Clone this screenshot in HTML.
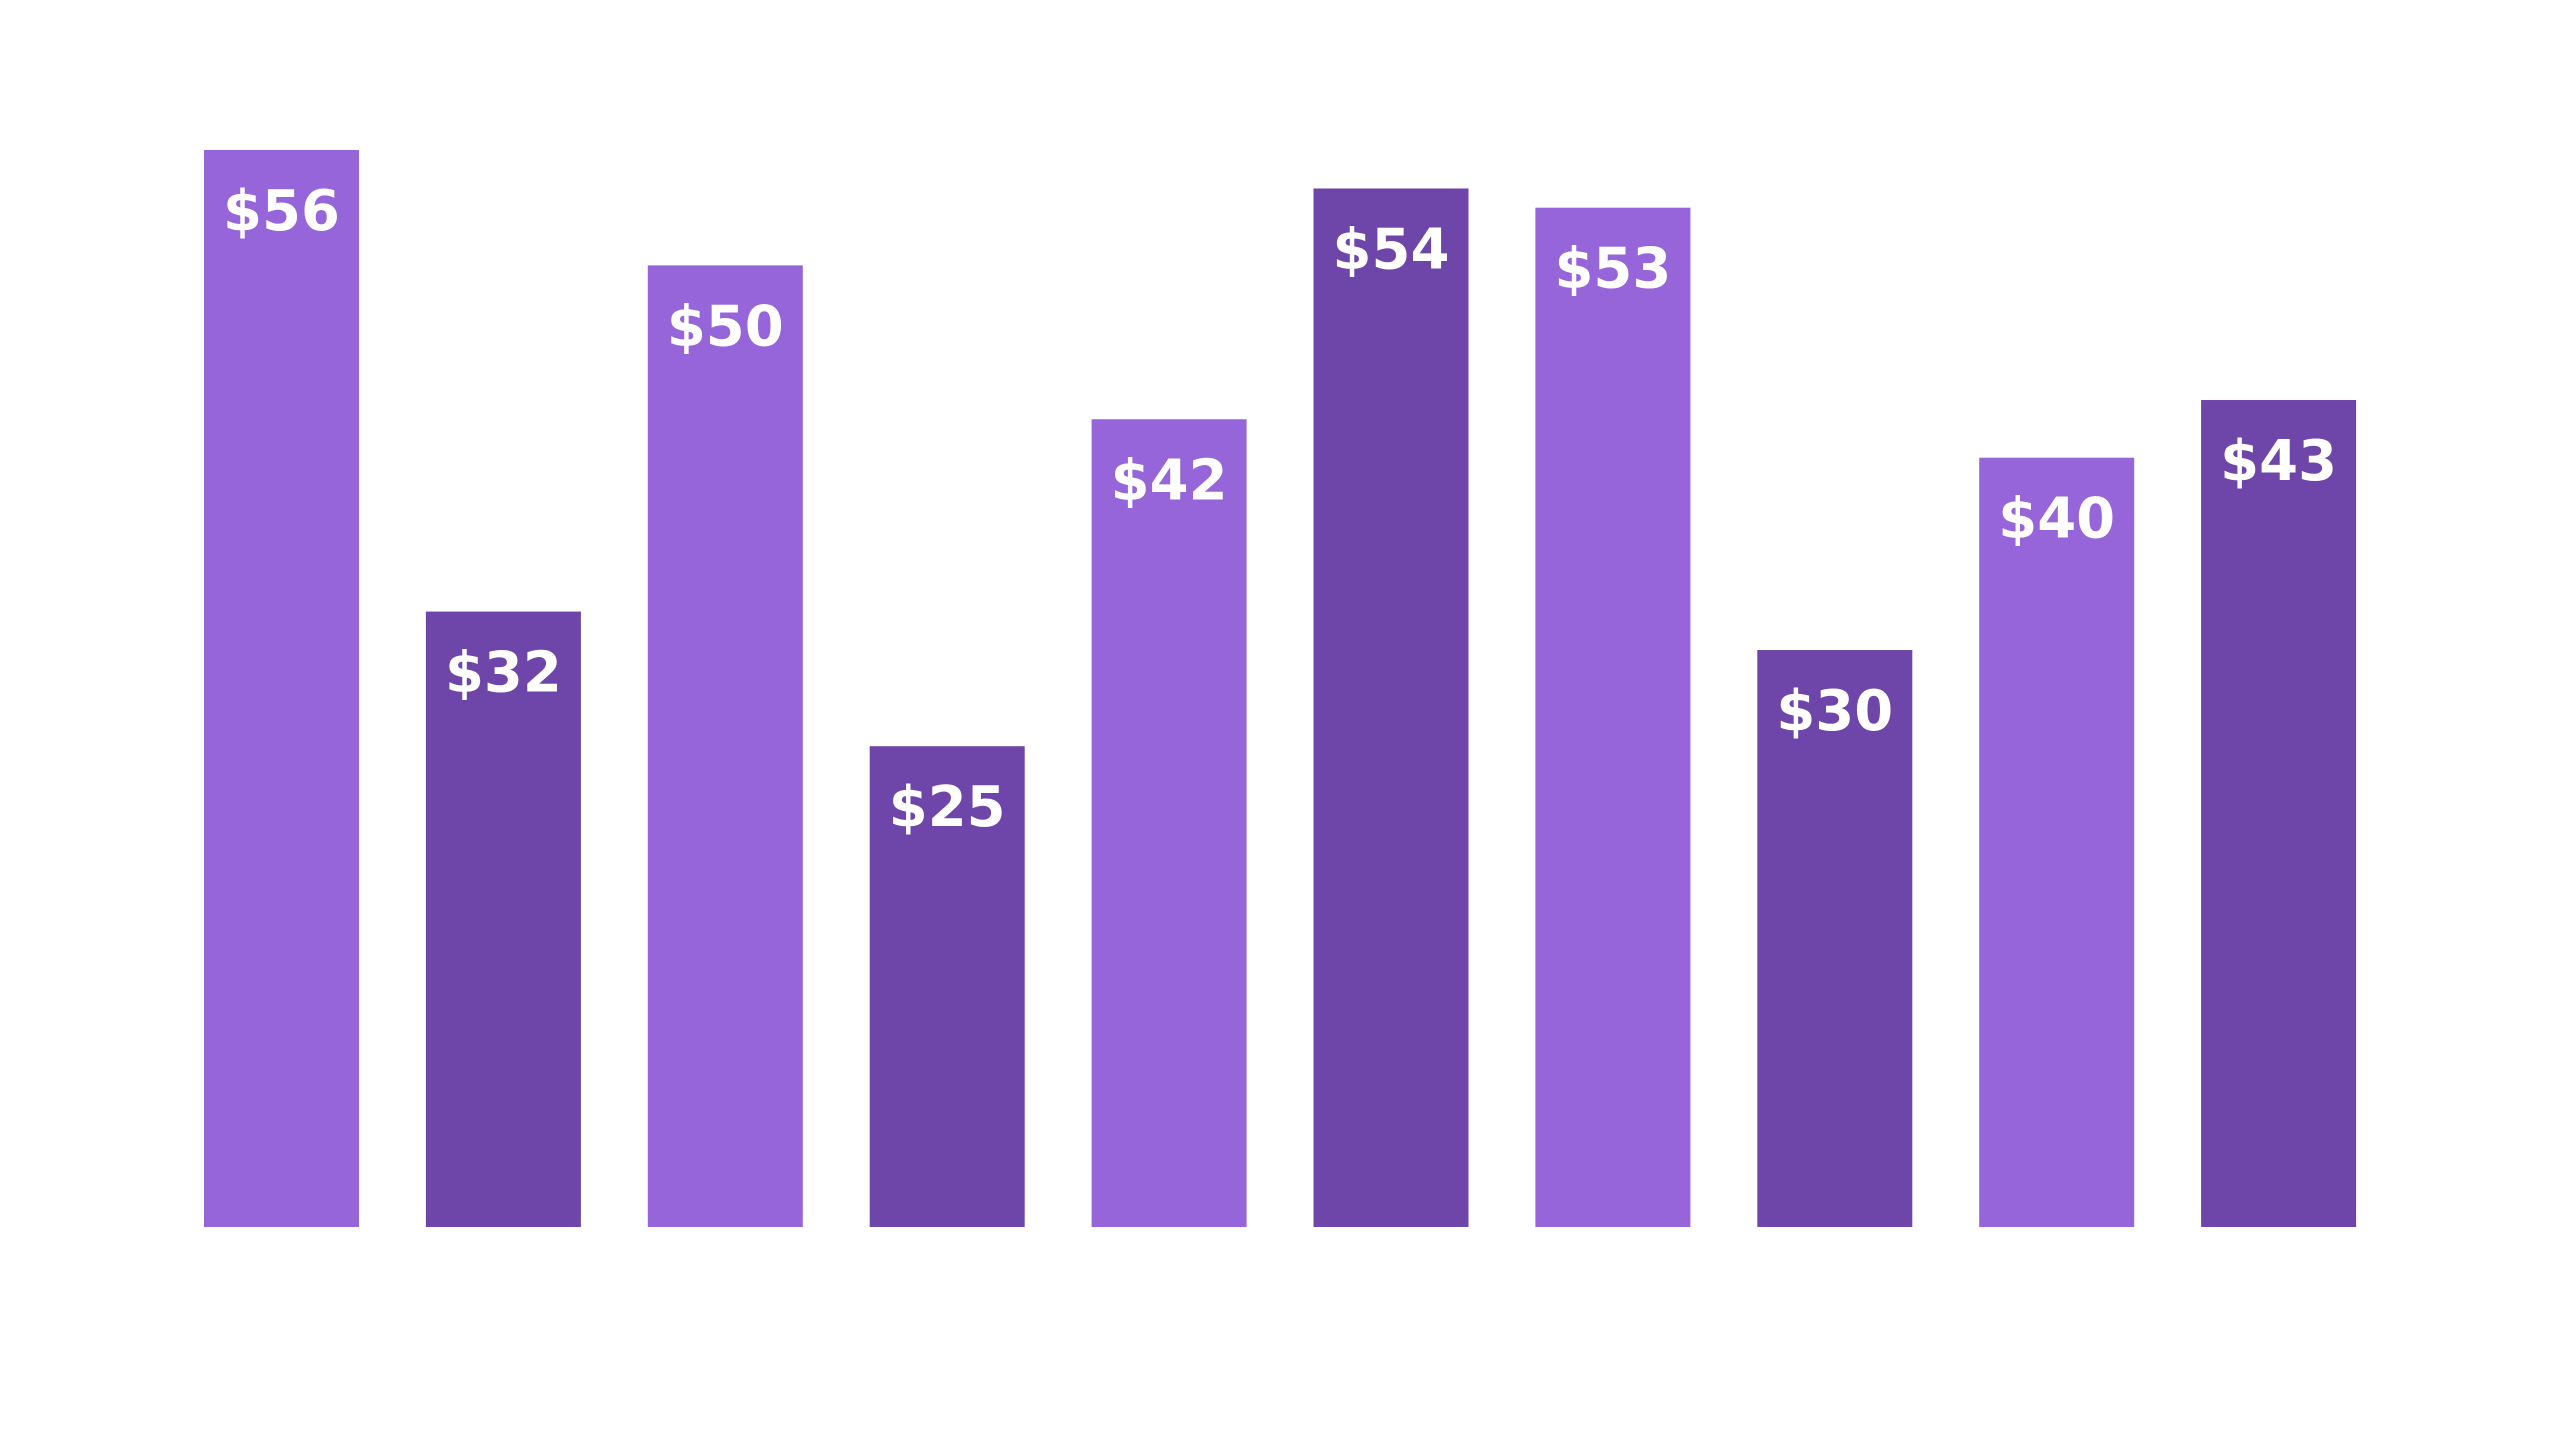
<!DOCTYPE html>
<html><head><meta charset="utf-8"><style>
html,body{margin:0;padding:0;background:#fff;}
svg{display:block;}
</style></head><body>
<svg id="chart" width="2560" height="1440" viewBox="0 0 2560 1440" xmlns="http://www.w3.org/2000/svg"></svg>
<script>
const categories = ["A","B","C","D","E","F","G","H","I","J"];
const values = [56,32,50,25,42,54,53,30,40,43];
const labels = ["$56","$32","$50","$25","$42","$54","$53","$30","$40","$43"];
const shades = ["light","dark","light","dark","light","dark","light","dark","light","dark"];

const svg = document.getElementById('chart');
const NS = 'http://www.w3.org/2000/svg';
const x0 = 204, pitch = 221.9, bw = 155, baseline = 1227, pxPerUnit = 1077/56;
function xScale(i){ return x0 + i*pitch; }
function yScale(v){ return baseline - v*pxPerUnit; }
const colors = {light:'#9565d9', dark:'#6e45a8'};
categories.forEach((c,i)=>{
  const v = values[i];
  const r = document.createElementNS(NS,'rect');
  r.setAttribute('x', xScale(i));
  r.setAttribute('y', yScale(v));
  r.setAttribute('width', bw);
  r.setAttribute('height', baseline - yScale(v));
  r.setAttribute('fill', colors[shades[i]]);
  
  
  svg.appendChild(r);
  const t = document.createElementNS(NS,'text');
  t.setAttribute('x', xScale(i) + bw/2);
  t.setAttribute('y', yScale(v) + 80);
  t.setAttribute('text-anchor', 'middle');
  t.setAttribute('fill', '#ffffff');
  t.setAttribute('font-family', '"DejaVu Sans", "Liberation Sans", sans-serif');
  t.setAttribute('font-weight', 'bold');
  t.setAttribute('font-size', '56');
  t.textContent = labels[i];
  
  
  svg.appendChild(t);
});
</script>
</body></html>
